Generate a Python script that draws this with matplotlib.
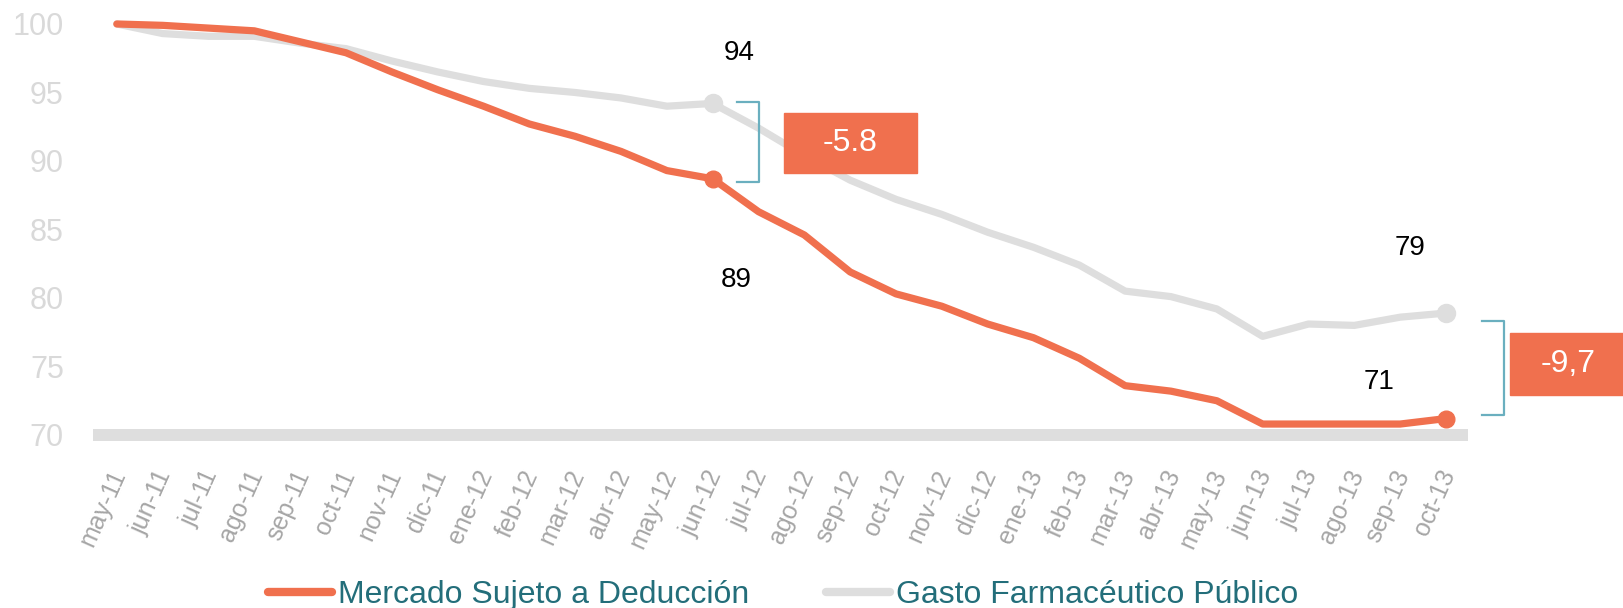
import matplotlib
matplotlib.use("Agg")
import matplotlib.pyplot as plt
import matplotlib.transforms as mtransforms
from matplotlib.patches import Rectangle
from matplotlib.lines import Line2D

plt.rcParams['font.family'] = ['Liberation Sans', 'DejaVu Sans']

# data
months = ['may-11', 'jun-11', 'jul-11', 'ago-11', 'sep-11', 'oct-11', 'nov-11', 'dic-11',
          'ene-12', 'feb-12', 'mar-12', 'abr-12', 'may-12', 'jun-12', 'jul-12', 'ago-12',
          'sep-12', 'oct-12', 'nov-12', 'dic-12', 'ene-13', 'feb-13', 'mar-13', 'abr-13',
          'may-13', 'jun-13', 'jul-13', 'ago-13', 'sep-13', 'oct-13']
mercado = [100.0, 99.9, 99.7, 99.5, 98.7, 97.9, 96.5, 95.2, 94.0, 92.7, 91.8, 90.7, 89.3, 88.7,
           86.3, 84.6, 81.9, 80.3, 79.4, 78.1, 77.1, 75.6, 73.6, 73.2, 72.5, 70.8, 70.8, 70.8,
           70.8, 71.2]
gasto = [100.0, 99.3, 99.1, 99.1, 98.6, 98.2, 97.3, 96.5, 95.8, 95.3, 95.0, 94.6, 94.0, 94.2,
         92.4, 90.4, 88.6, 87.2, 86.1, 84.8, 83.7, 82.4, 80.5, 80.1, 79.2, 77.2, 78.1, 78.0,
         78.6, 78.9]
yticks = [70, 75, 80, 85, 90, 95, 100]
label_mercado = 'Mercado Sujeto a Deducción'
label_gasto = 'Gasto Farmacéutico Público'
diff_mid = '-5.8'
diff_end = '-9,7'

ORANGE = '#F0704E'
GRAY = '#DEDEDE'
TEAL = '#6AAFBF'
W, H = 1623, 608

fig = plt.figure(figsize=(W / 100, H / 100), dpi=100)
ax = fig.add_axes([93 / W, 1 - 435 / H, (1468 - 93) / W, 435 / H])

x = list(range(len(months)))
ax.axhline(70, color=GRAY, lw=8.6, solid_capstyle='butt', clip_on=False, zorder=1)
ax.plot(x, gasto, color=GRAY, lw=5.2, solid_joinstyle='round', solid_capstyle='round', zorder=2)
ax.plot(x, mercado, color=ORANGE, lw=5.2, solid_joinstyle='round', solid_capstyle='round', zorder=3)

mid, end = 13, len(months) - 1
for i in (mid, end):
    ax.plot(i, gasto[i], 'o', color=GRAY, ms=13, zorder=2)
    ax.plot(i, mercado[i], 'o', color=ORANGE, ms=12, zorder=3)

# value labels
lab = dict(fontsize=20, color='black', ha='center', va='center', textcoords='offset points')
ax.annotate(f'{gasto[mid]:.0f}', (mid, gasto[mid]), xytext=(19, 36), **lab)
ax.annotate(f'{mercado[mid]:.0f}', (mid, mercado[mid]), xytext=(17, -73), **lab)
ax.annotate(f'{gasto[end]:.0f}', (end, gasto[end]), xytext=(-26, 47), **lab)
ax.annotate(f'{mercado[end]:.0f}', (end, mercado[end]), xytext=(-48, 26), **lab)


def bracket(x0, x1, top, bottom):
    ax.plot([x0, x1, x1, x0], [top, top, bottom, bottom], color=TEAL, lw=1.6,
            solid_joinstyle='round', clip_on=False, zorder=4)


bracket(mid + 0.53, mid + 1.0, gasto[mid] + 0.1, mercado[mid] - 0.2)
bracket(end + 0.78, end + 1.26, gasto[end] - 0.55, mercado[end] + 0.25)

# difference boxes
for (x0, y0, x1, y1), txt in [((784, 113, 917, 173), diff_mid), ((1510, 333, 1630, 395), diff_end)]:
    fig.patches.append(Rectangle((x0 / W, 1 - y1 / H), (x1 - x0) / W, (y1 - y0) / H,
                                 transform=fig.transFigure, color=ORANGE, zorder=5))
    fig.text((x0 + x1) / 2 / W if x1 < W else 1568 / W, 1 - (y0 + y1) / 2 / H, txt,
             color='white', fontsize=23, ha='center', va='center', zorder=6)

ax.set_xlim(-0.52, 29.48)
ax.set_ylim(70, 101.75)
ax.set_yticks(yticks)
ax.tick_params(axis='y', length=0, pad=21, labelsize=22, labelcolor='#D9D9D9')
ax.set_xticks(x)
ax.set_xticklabels(months, rotation=66, ha='right', va='center', rotation_mode='anchor',
                   fontsize=18, color='#A6A6A6')
ax.tick_params(axis='x', length=0, pad=26)
shift = mtransforms.ScaledTranslation(0.03, 0, fig.dpi_scale_trans)
for t in ax.get_xticklabels():
    t.set_transform(t.get_transform() + shift)
for s in ax.spines.values():
    s.set_visible(False)

handles = [Line2D([], [], color=ORANGE, lw=6, solid_capstyle='round'),
           Line2D([], [], color=GRAY, lw=6, solid_capstyle='round')]
leg = fig.legend(handles, [label_mercado, label_gasto], loc='center', ncol=2,
                 bbox_to_anchor=(783 / W, 1 - 595 / H), frameon=False, fontsize=23,
                 handlelength=2.0, handletextpad=0.2, columnspacing=2.4, borderpad=0)
for t in leg.get_texts():
    t.set_color('#236E7A')

fig.savefig('out.png', dpi=100)
